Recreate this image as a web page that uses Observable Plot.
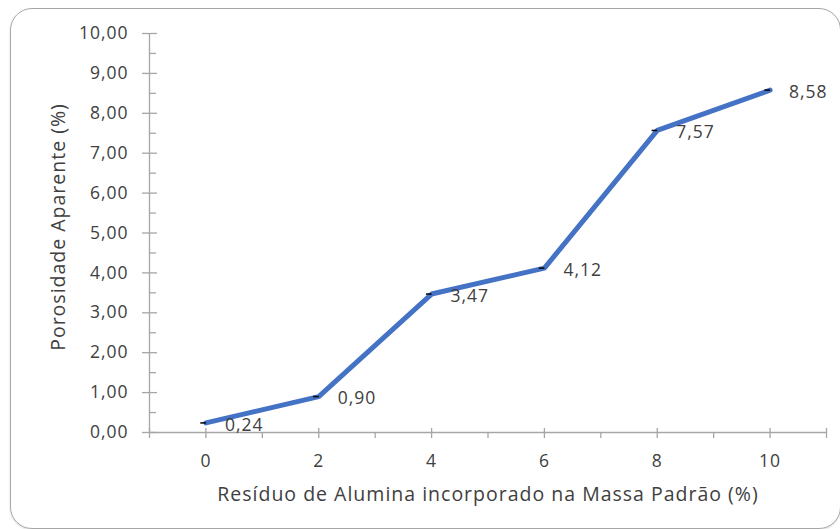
<!DOCTYPE html>
<html>
<head>
<meta charset="utf-8">
<script src="https://cdn.jsdelivr.net/npm/d3@7"></script>
<script src="https://cdn.jsdelivr.net/npm/@observablehq/plot@0.6"></script>
<style>
  html, body { margin: 0; padding: 0; background: #fff; overflow: hidden; }
  #wrap { position: relative; width: 840px; height: 529px; overflow: hidden; }
  #frame { position: absolute; left: 10px; top: 8px; width: 829px; height: 519px;
           border: 1.3px solid #a6a6a6; border-radius: 22px; box-shadow: 0 1px 2px rgba(0,0,0,0.15); }
  #chart { position: absolute; left: 0; top: 0; }
  #chart svg { background: transparent; }
  #chart svg text { letter-spacing: 1px; }
</style>
</head>
<body>
<div id="wrap"><div id="frame"></div><div id="chart"></div></div>
<script>
const residuo = [0, 2, 4, 6, 8, 10];
const porosidade = [0.24, 0.90, 3.47, 4.12, 7.57, 8.58];
const xTickLabels = [0, 2, 4, 6, 8, 10];
const yTickValues = [0, 1, 2, 3, 4, 5, 6, 7, 8, 9, 10];
const xTitle = "Resíduo de Alumina incorporado na Massa Padrão (%)";
const yTitle = "Porosidade Aparente (%)";

const data = residuo.map((x, i) => ({x, y: porosidade[i]}));
const fmt = v => d3.format(".2f")(v).replace(".", ",");
const textColor = "#404040";
const axisColor = "#a6a6a6";
const font = "Open Sans";
const numSize = 17.5;
const titleSize = 19.5;

const xAllTicks = d3.range(-1, 12);
const xMajor = xAllTicks.filter(v => v % 2 === 0 || v === -1 || v === 11);
const yMinor = d3.range(0.5, 10, 1);

const chart = Plot.plot({
  width: 840,
  height: 529,
  marginLeft: 149,
  marginRight: 14,
  marginTop: 33,
  marginBottom: 97,
  style: {fontFamily: font, fontSize: numSize + "px", color: textColor, background: "transparent"},
  x: {type: "linear", domain: [-1, 11]},
  y: {type: "linear", domain: [0, 10]},
  marks: [
    // axis lines
    Plot.ruleY([0], {stroke: axisColor, strokeWidth: 1.3}),
    Plot.ruleX([-1], {stroke: axisColor, strokeWidth: 1.3}),
    // x ticks
    Plot.axisX({ticks: xAllTicks, tickSize: 6, stroke: axisColor, strokeWidth: 1.3, label: null, tickFormat: () => ""}),
    Plot.axisX({ticks: xMajor, anchor: "top", frameAnchor: "bottom", tickSize: 5, stroke: axisColor, strokeWidth: 1.3, label: null, tickFormat: () => ""}),
    Plot.axisX({ticks: xTickLabels, tickSize: 0, tickPadding: 22, label: null, fill: textColor, fontSize: numSize, tickFormat: d => String(d)}),
    // y ticks
    Plot.axisY({ticks: yTickValues, tickSize: 7, stroke: axisColor, strokeWidth: 1.3, label: null, tickFormat: () => ""}),
    Plot.axisY({ticks: yTickValues, anchor: "right", frameAnchor: "left", tickSize: 7, stroke: axisColor, strokeWidth: 1.3, label: null, tickFormat: () => ""}),
    Plot.axisY({ticks: yMinor, anchor: "right", frameAnchor: "left", tickSize: 6, stroke: axisColor, strokeWidth: 1.3, label: null, tickFormat: () => ""}),
    Plot.axisY({ticks: yTickValues, tickSize: 0, tickPadding: 21, label: null, fill: textColor, fontSize: numSize, tickFormat: fmt}),
    // titles
    Plot.text([xTitle], {frameAnchor: "bottom", dy: 62, lineAnchor: "middle", text: d => d, fill: textColor, fontSize: titleSize}),
    Plot.text([yTitle], {frameAnchor: "left", textAnchor: "middle", lineAnchor: "middle", dx: -91, dy: -6, rotate: -90, text: d => d, fill: textColor, fontSize: titleSize}),
    // line
    Plot.line(data, {x: "x", y: "y", stroke: "#4472C4", strokeWidth: 5, strokeLinejoin: "miter"}),
    // tiny error-bar marks
    Plot.link(data, {x1: d => d.x - 0.1, x2: d => d.x, y1: "y", y2: "y", stroke: "#000", strokeWidth: 1.5}),
    // value labels
    Plot.text(data, {x: "x", y: "y", text: d => fmt(d.y), dx: 19, dy: 2, textAnchor: "start", fill: textColor, fontSize: numSize})
  ]
});
document.getElementById("chart").appendChild(chart);
</script>
</body>
</html>
